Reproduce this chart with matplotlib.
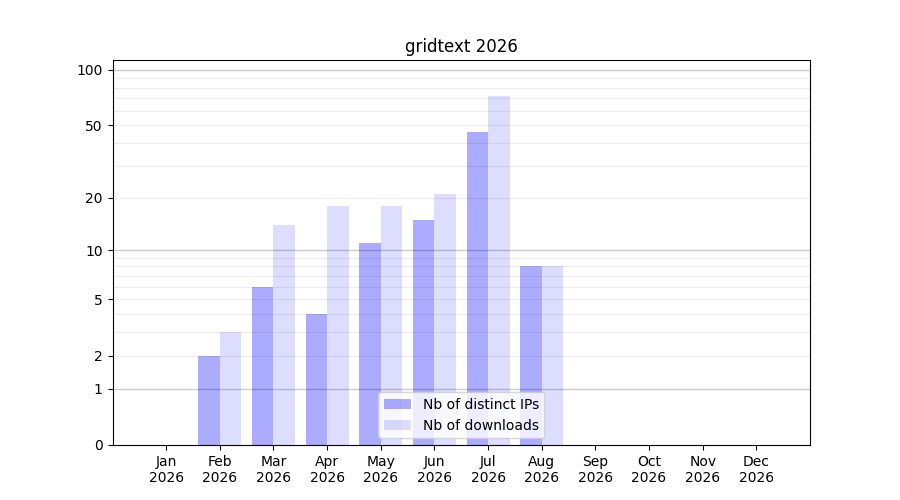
import numpy as np
import matplotlib
matplotlib.use("Agg")
import matplotlib.pyplot as plt

months = ["Jan", "Feb", "Mar", "Apr", "May", "Jun", "Jul", "Aug", "Sep", "Oct", "Nov", "Dec"]
year = "2026"
distinct_ips = [0, 2, 6, 4, 11, 15, 46, 8, 0, 0, 0, 0]
downloads = [0, 3, 14, 18, 18, 21, 72, 8, 0, 0, 0, 0]
ytick_values = [0, 1, 2, 5, 10, 20, 50, 100]

fig, ax = plt.subplots(figsize=(9, 5), dpi=100)
x = np.arange(len(months))
w = 0.4
ax.bar(x - w / 2, distinct_ips, width=w, color="blue", alpha=0.33, label="Nb of distinct IPs")
ax.bar(x + w / 2, downloads, width=w, color="blue", alpha=0.133, label="Nb of downloads")

ax.set_yscale("function", functions=(lambda v: np.log10(1 + np.maximum(v, 0)), lambda v: 10 ** v - 1))
ax.set_ylim(0, 113)
ax.set_xlim(-1, 12)

for dec in [1, 10]:
    for m in range(2, 10):
        ax.axhline(m * dec, color="black", alpha=0.07, linewidth=0.8)
for v in [1, 10, 100]:
    ax.axhline(v, color="black", alpha=0.2, linewidth=1)

ax.set_yticks(ytick_values)
ax.set_yticklabels([str(v) for v in ytick_values])
ax.yaxis.set_minor_locator(matplotlib.ticker.NullLocator())
ax.set_xticks(x)
ax.set_xticklabels([f"{m}\n{year}" for m in months])
ax.set_title("gridtext 2026")
ax.legend(loc="lower center")

fig.savefig("out.png")
